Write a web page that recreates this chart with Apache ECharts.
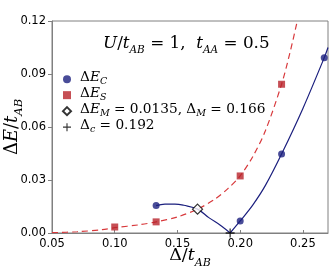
<!DOCTYPE html>
<html><head><meta charset="utf-8">
<script src="https://cdn.jsdelivr.net/npm/echarts@6/dist/echarts.min.js"></script>
<style>html,body{margin:0;padding:0;background:#fff}#c{width:332px;height:270px}</style>
</head><body><div id="c"></div>
<script>
// ---- data ----
const xTicks = [0.05, 0.10, 0.15, 0.20, 0.25];
const yTicks = [0.00, 0.03, 0.06, 0.09, 0.12];
// Delta E_C points (navy circles)
const ecX = [0.133, 0.200, 0.233, 0.267];
const ecY = [0.0155, 0.0068, 0.0447, 0.0992];
// Delta E_S points (red squares)
const esX = [0.100, 0.133, 0.200, 0.233];
const esY = [0.0034, 0.0063, 0.0323, 0.0842];
// crossing point (diamond)
const emX = [0.166];
const emY = [0.0135];
// critical Delta (plus)
const dcX = [0.192];
const dcY = [0.0];
// red dashed curve
const sCurveX = [0.05, 0.07, 0.09, 0.10, 0.12, 0.133, 0.15, 0.166, 0.18, 0.19, 0.20, 0.21, 0.22, 0.233, 0.24, 0.2455];
const sCurveY = [0.0002, 0.0007, 0.0019, 0.0030, 0.0047, 0.0063, 0.0091, 0.0135, 0.0192, 0.0250, 0.0323, 0.0432, 0.0577, 0.0842, 0.1030, 0.1200];
// navy solid curve, left branch
const c1X = [0.133, 0.140, 0.148, 0.155, 0.166, 0.175, 0.185, 0.192];
const c1Y = [0.0155, 0.0163, 0.0164, 0.0157, 0.0135, 0.0087, 0.0040, 0.0];
// navy solid curve, right branch
const c2X = [0.192, 0.200, 0.210, 0.220, 0.233, 0.250, 0.267, 0.270];
const c2Y = [0.0, 0.0068, 0.0158, 0.0268, 0.0447, 0.0705, 0.0992, 0.1050];

const zip = (a, b) => a.map((v, i) => [v, b[i]]);
const NAVY = '#1b1f7e', RED = '#b8232a', AX = '#808080';
const SERIF = 'DejaVu Serif';
const rich = (fs, sub, pb) => ({
  f: {fontFamily: SERIF, fontWeight: 'normal', fontSize: fs, color: '#000', verticalAlign: 'bottom', padding: [0, 0, pb, 4], lineHeight: fs + 2},
  i: {fontFamily: SERIF, fontWeight: 'normal', fontStyle: 'italic', fontSize: fs, color: '#000', verticalAlign: 'bottom', padding: [0, 0, pb, 0], lineHeight: fs + 2},
  r: {fontFamily: SERIF, fontWeight: 'normal', fontSize: fs, color: '#000', verticalAlign: 'bottom', padding: [0, 0, pb, 0], lineHeight: fs + 2},
  s: {fontFamily: SERIF, fontWeight: 'normal', fontStyle: 'italic', fontSize: sub, color: '#000', verticalAlign: 'bottom', lineHeight: sub + 1}
});
const legendText = {
  'EC': '{f|Δ}{i|E}{s|C}',
  'ES': '{f|Δ}{i|E}{s|S}',
  'EM': '{f|Δ}{i|E}{s|M}{r| = 0.0135, Δ}{s|M}{r| = 0.166}',
  'DC': '{f|Δ}{s|c}{r| = 0.192}'
};
const plusPath = 'path://M4.3,0H5.7V4.3H10V5.7H5.7V10H4.3V5.7H0V4.3H4.3Z';

const chart = echarts.init(document.getElementById('c'), null, {renderer: 'canvas'});
chart.setOption({
  animation: false,
  title: {
    text: '{i|U}{r|/}{i|t}{s|AB}{r| = 1,  }{i|t}{s|AA}{r| = 0.5}',
    left: 103, top: 37, padding: 0,
    textStyle: {fontWeight: 'normal', rich: rich(16.8, 10.5, 4)}
  },
  legend: {
    orient: 'vertical', left: 62, top: 70, padding: 0,
    itemWidth: 8, itemHeight: 8, itemGap: -1,
    data: ['EC', 'ES', 'EM', 'DC'],
    formatter: n => legendText[n],
    textStyle: {rich: rich(13.7, 9.5, 3)}
  },
  grid: {left: 52, right: 4, top: 21, bottom: 37, show: true, borderColor: AX, borderWidth: 1, outerBoundsMode: 'none', containLabel: false},
  xAxis: {
    type: 'value', min: 0.05, max: 0.27, interval: 0.05,
    axisLine: {lineStyle: {color: AX}}, splitLine: {show: false},
    axisTick: {inside: true, length: 3, lineStyle: {color: AX}},
    axisLabel: {showMaxLabel: false, margin: 5, color: '#000', fontFamily: 'DejaVu Sans', fontSize: 11.5,
      formatter: v => { const t = xTicks.find(k => Math.abs(k - v) < 1e-6); return t === undefined ? '' : t.toFixed(2); }},
    name: '{r|Δ/}{i|t}{s|AB}', nameLocation: 'middle', nameGap: 16, nameMoveOverlap: false,
    nameTextStyle: {rich: rich(17.5, 11, 4)}
  },
  yAxis: {
    type: 'value', min: 0, max: 0.12, interval: 0.03,
    axisLine: {lineStyle: {color: AX}}, splitLine: {show: false},
    axisTick: {inside: false, length: 4, lineStyle: {color: AX}},
    axisLabel: {margin: 6, color: '#000', fontFamily: 'DejaVu Sans', fontSize: 11.5,
      formatter: v => { const t = yTicks.find(k => Math.abs(k - v) < 1e-6); return t === undefined ? '' : t.toFixed(2); }},
    name: '{r|Δ}{i|E}{r|/}{i|t}{s|AB}', nameLocation: 'middle', nameGap: 27, nameRotate: 90, nameMoveOverlap: false,
    nameTextStyle: {rich: rich(18, 11.5, 4)}
  },
  series: [
    {type: 'line', data: zip(sCurveX, sCurveY), smooth: 0.3, symbol: 'none', silent: true, z: 1,
      lineStyle: {color: '#d8393c', width: 1.2, type: [6, 4]}},
    {type: 'line', data: zip(c1X, c1Y), smooth: 0.4, symbol: 'none', silent: true, z: 1,
      lineStyle: {color: NAVY, width: 1.2}},
    {type: 'line', data: zip(c2X, c2Y), smooth: 0.3, symbol: 'none', silent: true, z: 1,
      lineStyle: {color: NAVY, width: 1.2}},
    {name: 'EC', type: 'scatter', data: zip(ecX, ecY), symbol: 'circle', symbolSize: 7, z: 3,
      itemStyle: {color: NAVY}},
    {name: 'ES', type: 'scatter', data: zip(esX, esY), symbol: 'rect', symbolSize: 7, z: 3,
      itemStyle: {color: RED}},
    {name: 'EM', type: 'scatter', data: zip(emX, emY), symbol: 'diamond', symbolSize: 10, z: 4,
      itemStyle: {color: '#fff', borderColor: '#000', borderWidth: 1.2}},
    {name: 'DC', type: 'scatter', data: zip(dcX, dcY), symbol: plusPath, symbolSize: 9, z: 4,
      itemStyle: {color: '#000'}}
  ]
});
</script></body></html>
